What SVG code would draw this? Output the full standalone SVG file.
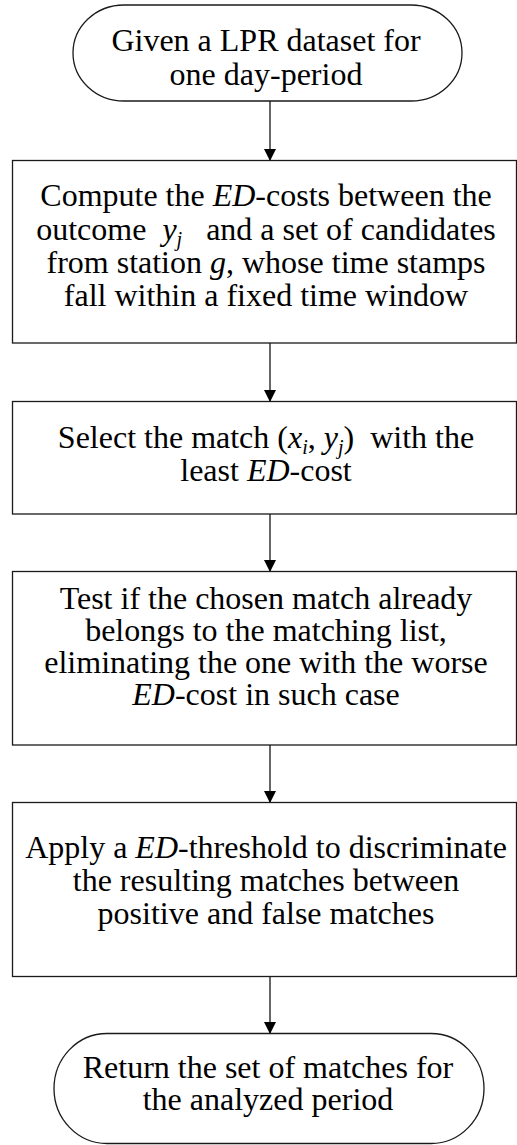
<svg xmlns="http://www.w3.org/2000/svg" width="517" height="1145" viewBox="0 0 517 1145">
<defs>
<style>
.n{fill:#fff;stroke:#1a1a1a;stroke-width:1.3}
.t{font-family:"Liberation Serif","Times New Roman",serif;font-size:32px;fill:#000;text-anchor:middle}
.i{font-style:italic}
.s{font-style:italic;font-size:20px}
.c{stroke:#000;stroke-width:1.2;fill:none;marker-end:url(#ah)}
</style>
<marker id="ah" markerWidth="12" markerHeight="12" refX="11" refY="6" orient="auto" markerUnits="userSpaceOnUse">
<path d="M0,0 L12,6 L0,12 Z" fill="#000"/>
</marker>
</defs>
<rect width="517" height="1145" fill="#fff"/>
<g id="connectors">
<line class="c" x1="270" y1="101" x2="270" y2="160"/>
<line class="c" x1="270" y1="343" x2="270" y2="401"/>
<line class="c" x1="270" y1="514" x2="270" y2="571"/>
<line class="c" x1="270" y1="745" x2="270" y2="802"/>
<line class="c" x1="270" y1="977" x2="270" y2="1033"/>
</g>
<g id="start">
<path class="n" d="M124,5 H411 A51 48 0 0 1 411,101 H124 A51 48 0 0 1 124,5 Z"/>
<text class="t" x="266" y="51">Given a LPR dataset for</text>
<text class="t" x="266" y="85">one day-period</text>
</g>
<g id="compute">
<rect class="n" x="12.5" y="160.5" width="504" height="182.5"/>
<text class="t" x="266" y="206">Compute the <tspan class="i">ED</tspan>-costs between the</text>
<text class="t" x="266" y="240">outcome&#160; <tspan class="i">y</tspan><tspan class="s" dy="6">j</tspan><tspan dy="-6">&#160;&#160; and a set of candidates</tspan></text>
<text class="t" x="266" y="273">from station <tspan class="i">g</tspan>, whose time stamps</text>
<text class="t" x="266" y="306">fall within a fixed time window</text>
</g>
<g id="select">
<rect class="n" x="12.5" y="401.5" width="504" height="112.5"/>
<text class="t" x="266" y="448">Select the match (<tspan class="i">x</tspan><tspan class="s" dy="6">i</tspan><tspan dy="-6">, </tspan><tspan class="i">y</tspan><tspan class="s" dy="6">j</tspan><tspan dy="-6">)&#160; with the</tspan></text>
<text class="t" x="266" y="481">least <tspan class="i">ED</tspan>-cost</text>
</g>
<g id="test">
<rect class="n" x="12.5" y="571.5" width="504" height="173.5"/>
<text class="t" x="266" y="609">Test if the chosen match already</text>
<text class="t" x="266" y="641">belongs to the matching list,</text>
<text class="t" x="266" y="673">eliminating the one with the worse</text>
<text class="t" x="266" y="705"><tspan class="i">ED</tspan>-cost in such case</text>
</g>
<g id="apply">
<rect class="n" x="12.5" y="802.5" width="504" height="174"/>
<text class="t" x="266" y="858">Apply a <tspan class="i">ED</tspan>-threshold to discriminate</text>
<text class="t" x="266" y="891">the resulting matches between</text>
<text class="t" x="266" y="924">positive and false matches</text>
</g>
<g id="end">
<path class="n" d="M107,1033.5 H431 A53 55 0 0 1 431,1143.5 H107 A53 55 0 0 1 107,1033.5 Z"/>
<text class="t" x="268" y="1078">Return the set of matches for</text>
<text class="t" x="268" y="1110">the analyzed period</text>
</g>
</svg>
